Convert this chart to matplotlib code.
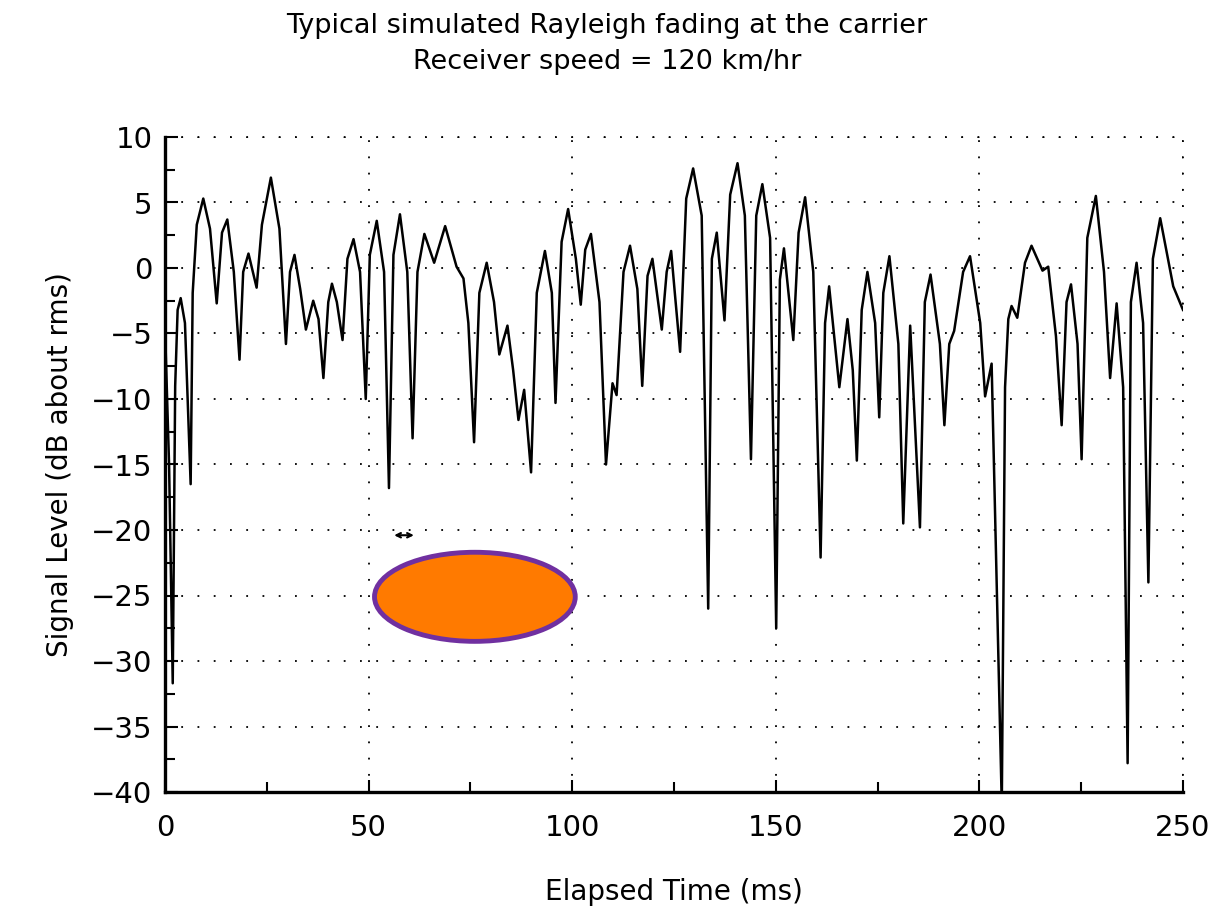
import matplotlib.pyplot as plt
from matplotlib.patches import Ellipse

# trace: peaks, nulls, shoulders and flank points
# (time in ms, level in dB about rms)
time_ms = [0, 1.0, 1.9, 2.5, 3.1, 3.85, 4.9, 6.3, 6.8, 7.8, 9.4, 11.05, 12.7,
           14.0, 15.3, 16.9, 18.3, 19.2, 20.5, 22.5, 23.8, 26.0, 28.1, 29.7,
           30.7, 31.8, 33.2, 34.6, 36.4, 37.7, 38.9, 40.1, 41.0, 42.2, 43.6,
           44.8, 46.3, 47.9, 49.3, 50.3, 52.0, 53.8, 55.0, 56.1, 57.7, 59.5,
           60.8, 62.0, 63.7, 66.1, 68.8, 71.6, 73.3, 74.5, 75.9, 77.2, 79.0,
           80.8, 82.1, 84.1, 85.5, 86.8, 88.2, 89.9, 91.3, 93.3, 95.0, 95.9,
           97.4, 99.0, 100.9, 102.1, 103.2, 104.6, 106.7, 108.3, 109.9, 110.9,
           112.6, 114.2, 116.0, 117.2, 118.5, 119.7, 122.0, 123.2, 124.3,
           125.2, 126.5, 128.0, 129.7, 131.8, 133.4, 134.3, 135.5, 137.4,
           138.8, 140.6, 142.4, 143.9, 145.2, 146.7, 148.6, 150.1, 151.0,
           152.0, 154.3, 155.6, 157.2, 159.2, 161.0, 162.1, 163.1, 165.6,
           167.6, 168.9, 169.9, 171.1, 172.5, 174.4, 175.4, 176.4, 177.9,
           180.1, 181.3, 183.0, 185.4, 186.6, 188.0, 190.3, 191.4, 192.6,
           193.8, 196.0, 197.7, 200.2, 201.4, 203.0, 205.5, 206.3, 207.1,
           207.9, 209.3, 211.2, 212.8, 215.5, 216.9, 218.8, 220.2, 221.4,
           222.5, 224.1, 225.1, 226.5, 228.6, 230.6, 232.1, 233.7, 235.3,
           236.4, 237.2, 238.6, 240.2, 241.5, 242.6, 244.4, 247.6, 250]
level_db = [-4.5, -15, -31.7, -9.0, -3.2, -2.3, -4.2, -16.5, -1.9, 3.3, 5.3,
            3.0, -2.7, 2.7, 3.7, -0.3, -7.0, -0.3, 1.1, -1.5, 3.3, 6.9, 3.0,
            -5.8, -0.3, 1.0, -1.6, -4.7, -2.5, -3.9, -8.4, -2.6, -1.2, -2.6,
            -5.5, 0.7, 2.2, -0.3, -10.0, 1.0, 3.6, -0.3, -16.8, 1.0, 4.1,
            -0.3, -13.0, -0.3, 2.6, 0.4, 3.2, 0.1, -0.8, -4.2, -13.3, -1.9,
            0.4, -2.6, -6.6, -4.4, -7.8, -11.6, -9.3, -15.6, -1.9, 1.3, -1.9,
            -10.3, 2.0, 4.5, 0.7, -2.8, 1.4, 2.6, -2.6, -15.0, -8.8, -9.7,
            -0.3, 1.7, -1.6, -9.0, -0.6, 0.7, -4.7, -0.3, 1.3, -1.9, -6.4,
            5.3, 7.6, 4.0, -26.0, 0.7, 2.7, -4.0, 5.6, 8.0, 4.0, -14.6, 4.0,
            6.4, 2.3, -27.5, -0.9, 1.5, -5.5, 2.7, 5.4, -0.3, -22.1, -4.2,
            -1.4, -9.1, -3.9, -7.8, -14.7, -3.2, -0.3, -4.2, -11.4, -1.9, 0.9,
            -5.8, -19.5, -4.4, -19.8, -2.6, -0.5, -5.8, -12.0, -5.8, -4.8,
            -0.3, 0.9, -4.2, -9.8, -7.3, -41.0, -9.1, -3.9, -2.9, -3.8, 0.4,
            1.7, -0.2, 0.1, -5.2, -12.0, -2.6, -1.25, -5.8, -14.6, 2.3, 5.5,
            -0.3, -8.4, -2.7, -9.1, -37.8, -2.6, 0.4, -4.2, -24.0, 0.7, 3.8,
            -1.4, -3.2]

x_ticks = [0, 50, 100, 150, 200, 250]
y_ticks = [-40, -35, -30, -25, -20, -15, -10, -5, 0, 5, 10]
title_lines = ['Typical simulated Rayleigh fading at the carrier',
               'Receiver speed = 120 km/hr']

fig = plt.figure(figsize=(12.14, 9.13), dpi=100)
ax = fig.add_axes([165 / 1214, 121 / 913, 1018 / 1214, 655 / 913])

ax.plot(time_ms, level_db, color='black', lw=1.8, solid_joinstyle='round')

ax.set_xlim(0, 250)
ax.set_ylim(-40, 10)
ax.set_xticks(x_ticks)
ax.set_yticks(y_ticks)
ax.set_xticks(range(0, 251, 25), minor=True)
ax.set_yticks([v / 2 for v in range(-80, 21, 5)], minor=True)
ax.tick_params(which='both', direction='in', labelsize=21, width=1.5)
ax.tick_params(which='major', length=9, pad=9)
ax.tick_params(which='minor', length=7)
ax.tick_params(axis='x', pad=16)
ax.grid(True, color='black', linestyle=(0, (1, 8)), lw=1.3)

for side in ['top', 'right']:
    ax.spines[side].set_visible(False)
for side in ['left', 'bottom']:
    ax.spines[side].set_linewidth(2.4)
# dotted top and right edges like the grid
ax.axhline(10, color='black', linestyle=(0, (1, 8)), lw=1.3, clip_on=False)
ax.axvline(250, color='black', linestyle=(0, (1, 8)), lw=1.3, clip_on=False)

ax.set_xlabel('Elapsed Time (ms)', fontsize=20, labelpad=26)
ax.set_ylabel('Signal Level (dB about rms)', fontsize=20, labelpad=12)

fig.text(0.5, 0.972, title_lines[0], ha='center', va='center', fontsize=19.5)
fig.text(0.5, 0.932, title_lines[1], ha='center', va='center', fontsize=19.5)

# marker arrow and highlighted region
ax.annotate('', xy=(61.8, -20.4), xytext=(55.6, -20.4),
            arrowprops=dict(arrowstyle='<->', color='black', lw=1.5,
                            mutation_scale=8))
ax.add_patch(Ellipse((76.1, -25.1), 49.3, 6.8, facecolor='#ff7a00',
                     edgecolor='#7030a0', lw=3.5, zorder=3))

fig.savefig('out.png', dpi=100)
